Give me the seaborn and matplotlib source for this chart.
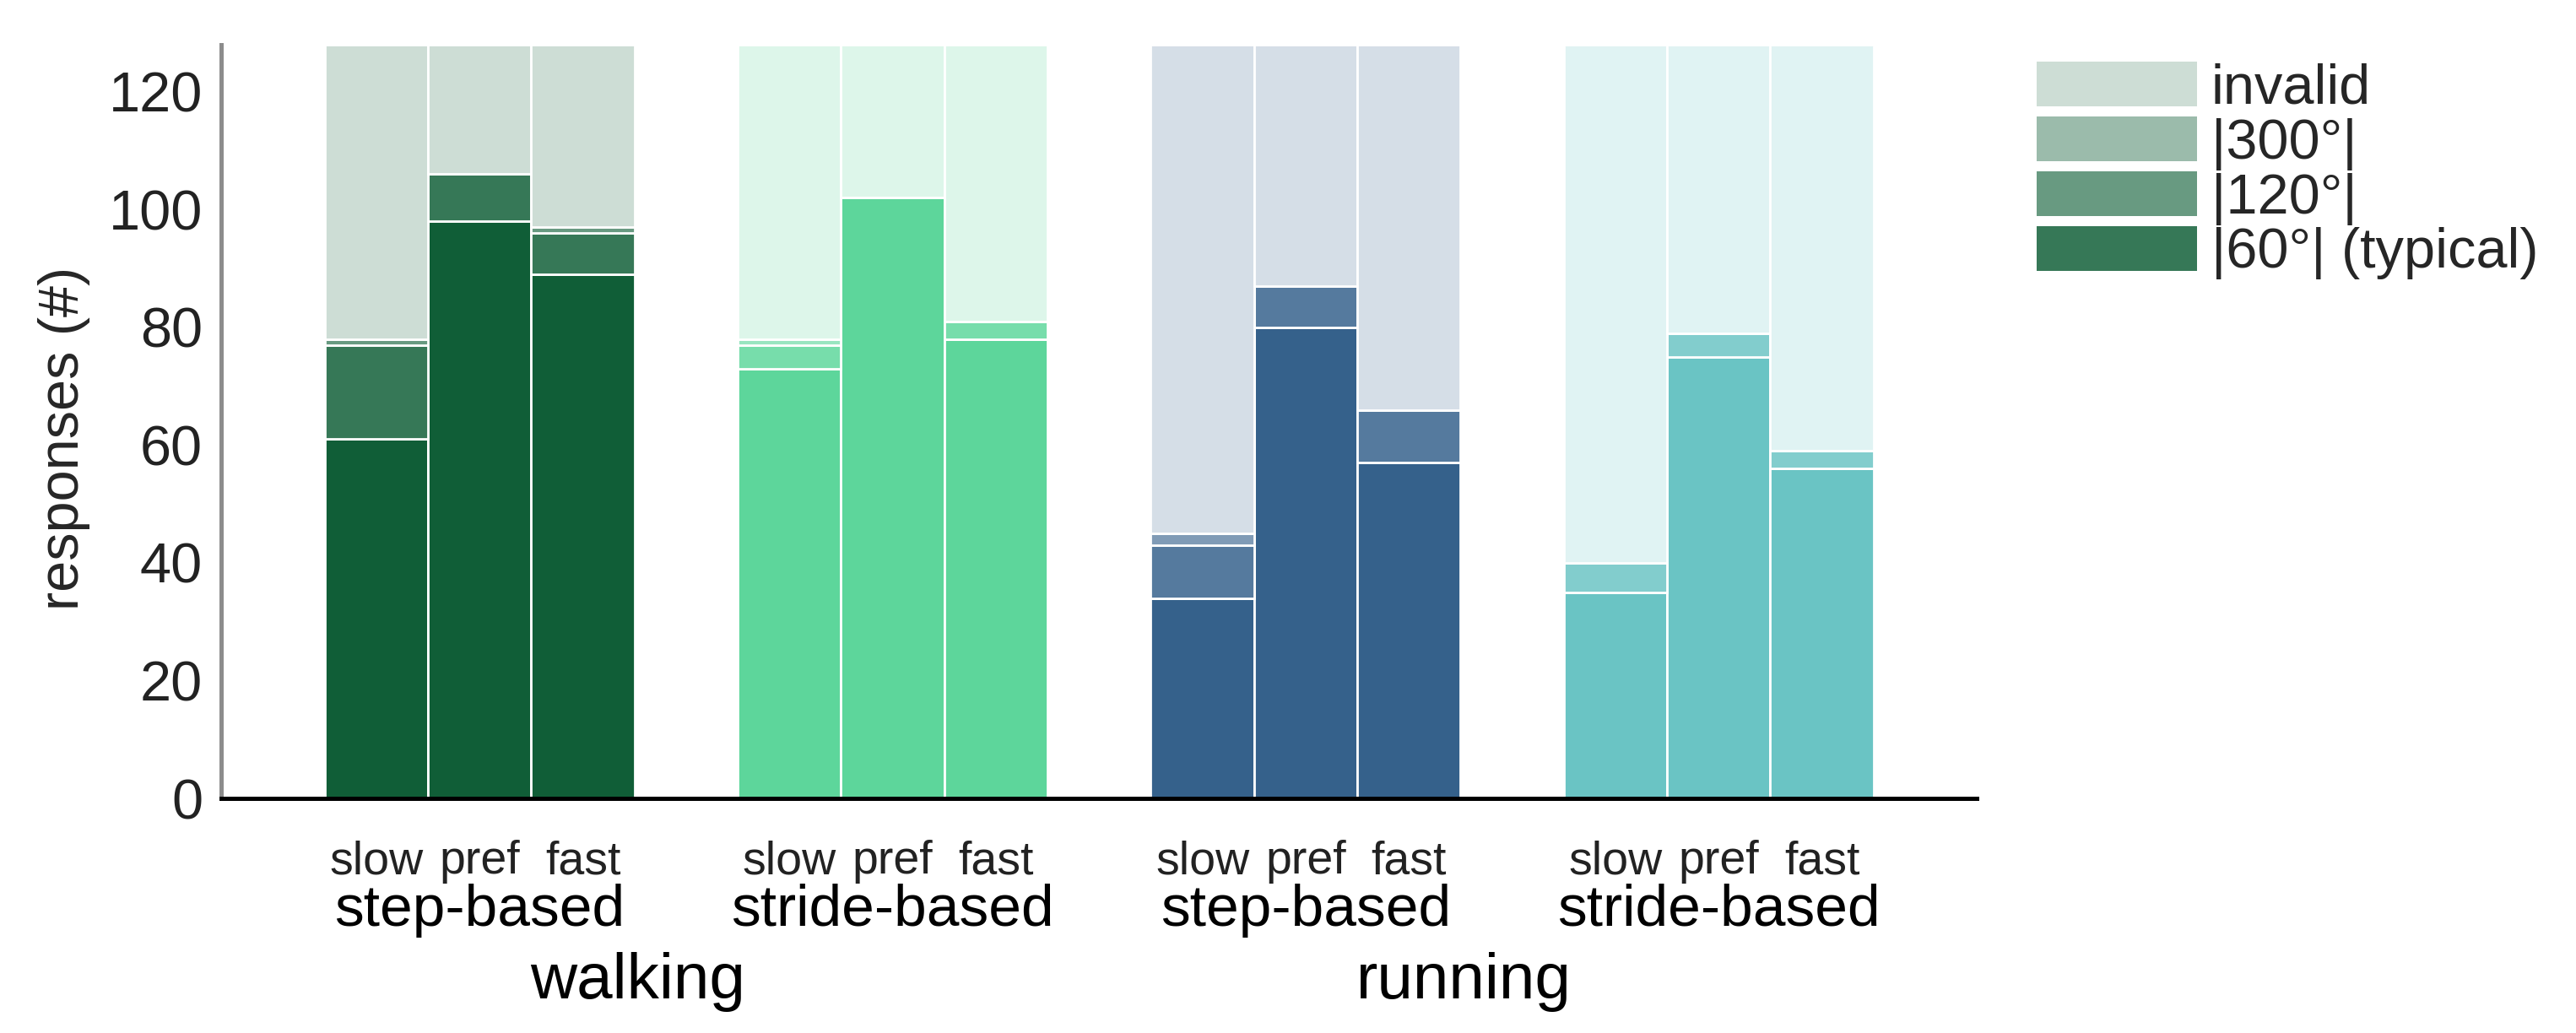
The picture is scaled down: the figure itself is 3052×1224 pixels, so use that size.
import matplotlib
matplotlib.use('Agg')
import numpy as np
import pandas as pd
import seaborn as sns
import matplotlib.pyplot as plt
from matplotlib import font_manager
from matplotlib.patches import Patch
from matplotlib.transforms import blended_transform_factory

# ---- data ----
gaits = ['walking', 'running']
methods = ['step-based', 'stride-based', 'step-based', 'stride-based']
speeds = ['slow', 'pref', 'fast']
# stacking order, bottom -> top
layers = ['0°', '|60°| (typical)', '|120°|', '|300°|', 'invalid']
layer_alpha = [1.0, 0.84, 0.63, 0.42, 0.21]
base_colors = ['#105E37', '#5DD69B', '#35618B', '#6AC4C4']

# responses per speed (slow, pref, fast), columns follow `layers`
walk_step = [[61, 16, 1, 0, 50], [98, 8, 0, 0, 22], [89, 7, 1, 0, 31]]
walk_stride = [[73, 4, 1, 0, 50], [102, 0, 0, 0, 26], [78, 3, 0, 0, 47]]
run_step = [[34, 9, 2, 0, 83], [80, 7, 0, 0, 41], [57, 9, 0, 0, 62]]
run_stride = [[35, 5, 0, 0, 88], [75, 4, 0, 0, 49], [56, 3, 0, 0, 69]]
group_counts = [walk_step, walk_stride, run_step, run_stride]


def has_font(name):
    try:
        font_manager.findfont(font_manager.FontProperties(family=name),
                              fallback_to_default=False)
        return True
    except ValueError:
        return False


def mix(color, a):
    rgb = np.array(matplotlib.colors.to_rgb(color))
    return tuple(a * rgb + (1 - a) * np.ones(3))


sns.set_theme(style='white')
plt.rcParams['font.family'] = ['Liberation Sans', 'DejaVu Sans']
narrow = has_font('Liberation Sans Narrow')
speed_font = 'Liberation Sans Narrow' if narrow else 'Liberation Sans'
speed_size = 44 if narrow else 40

fig = plt.figure(figsize=(30.52, 12.24), dpi=100)
ax = fig.add_axes([0.086, 0.2271, 0.6814, 0.7296])

hue_order = layers[::-1]  # seaborn stacks the last hue level at the bottom
for g, counts in enumerate(group_counts):
    start = 1 + 4 * g
    rows = []
    for s, row in enumerate(counts):
        for lay, n in zip(layers, row):
            rows.append({'pos': start + s, 'layer': lay, 'n': n})
    df = pd.DataFrame(rows)
    pal = {lay: mix(base_colors[g], a) for lay, a in zip(layers, layer_alpha)}
    sns.histplot(data=df, x='pos', weights='n', hue='layer', hue_order=hue_order,
                 multiple='stack', discrete=True, shrink=1, palette=pal,
                 alpha=1, edgecolor='white', linewidth=2, legend=False, ax=ax)

ax.set_xlim(-0.5, 16.5)
ax.set_ylim(0, 128)
ax.set_yticks(range(0, 121, 20))
ax.set_xticks([])
ax.set_xlabel('')
ax.set_ylabel('responses (#)', fontsize=48)
ax.yaxis.set_label_coords(-0.0748, 0.478)
ax.tick_params(axis='y', direction='in', length=13, width=1.5, color='#808080',
               labelsize=48, labelcolor='#222222', pad=16)
sns.despine(ax=ax)
ax.spines['left'].set_color('#8c8c8c')
ax.spines['left'].set_linewidth(3.6)
ax.spines['bottom'].set_color('black')
ax.spines['bottom'].set_linewidth(3.6)

trans = blended_transform_factory(ax.transData, ax.transAxes)
for g in range(4):
    start = 1 + 4 * g
    for s, sp in enumerate(speeds):
        ax.text(start + s, -0.0997, sp, transform=trans, ha='center', va='baseline',
                fontsize=speed_size, family=speed_font, color='#222222')
    ax.text(start + 1, -0.169, methods[g], transform=trans, ha='center',
            va='baseline', fontsize=50, color='black')
for k, gait in enumerate(gaits):
    ax.text(3.53 + 8 * k, -0.265, gait, transform=trans, ha='center',
            va='baseline', fontsize=55, color='black')

handles = [Patch(facecolor=mix(base_colors[0], layer_alpha[i]), edgecolor='none')
           for i in [4, 3, 2, 1]]
labels = [layers[i] for i in [4, 3, 2, 1]]
fig.legend(handles, labels, loc='upper left', bbox_to_anchor=(0.7906, 0.94),
           frameon=False, fontsize=48, handlelength=2.85, handleheight=0.84,
           handletextpad=0.25, labelspacing=0.02, borderpad=0, borderaxespad=0)

fig.savefig('out.png', dpi=100)
